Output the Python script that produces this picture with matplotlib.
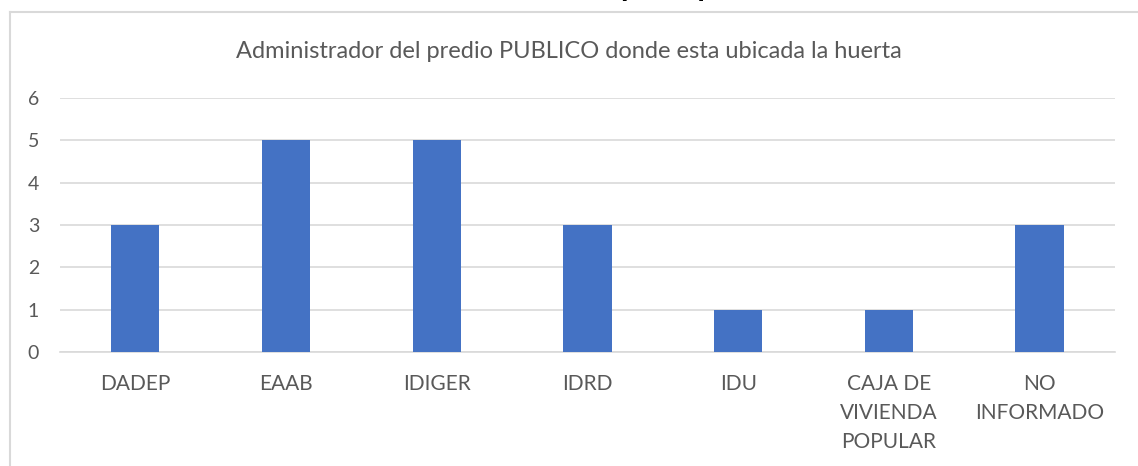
import matplotlib.pyplot as plt
from matplotlib.lines import Line2D

categories = ['DADEP', 'EAAB', 'IDIGER', 'IDRD', 'IDU',
              'CAJA DE\nVIVIENDA\nPOPULAR', 'NO\nINFORMADO']
values = [3, 5, 5, 3, 1, 1, 3]
yticks = [0, 1, 2, 3, 4, 5, 6]

plt.rcParams['font.family'] = ['Lato', 'DejaVu Sans']

fig = plt.figure(figsize=(11.38, 4.66), dpi=100)
ax = fig.add_axes([0.0527, 0.2446, 0.927, 0.5451])

x = list(range(len(categories)))
ax.bar(x, values, width=0.32, color='#4472C4', zorder=3)

ax.set_xlim(-0.5, len(categories) - 0.5)
ax.set_ylim(0, 6)
ax.set_yticks(yticks)
ax.set_xticks(x)
ax.set_xticklabels(categories, linespacing=1.55)
ax.tick_params(axis='both', length=0, colors='#595959')
ax.tick_params(axis='x', pad=16, labelsize=15)
ax.tick_params(axis='y', pad=15, labelsize=14)
ax.grid(axis='y', color='#d9d9d9', linewidth=1.2, zorder=0)
for s in ['top', 'right', 'left']:
    ax.spines[s].set_visible(False)
ax.spines['bottom'].set_color('#d9d9d9')
ax.spines['bottom'].set_linewidth(1.2)

fig.text(0.5, 1 - 52 / 466, 'Administrador del predio PUBLICO donde esta ubicada la huerta',
         ha='center', va='center', fontsize=17, color='#595959')

# chart frame (left and top edges)
fig.add_artist(Line2D([10 / 1138, 10 / 1138], [0, 1 - 12 / 466], color='#d9d9d9', lw=1.5))
fig.add_artist(Line2D([10 / 1138, 1], [1 - 12 / 466, 1 - 12 / 466], color='#d9d9d9', lw=1.5))

# cut-off heading above the chart (only descenders visible)
fig.text(0.587, 1.0 + 4 / 466, 'p        p', ha='center', va='baseline',
         fontsize=22, fontweight='bold', color='black')

fig.savefig('out.png', dpi=100)
